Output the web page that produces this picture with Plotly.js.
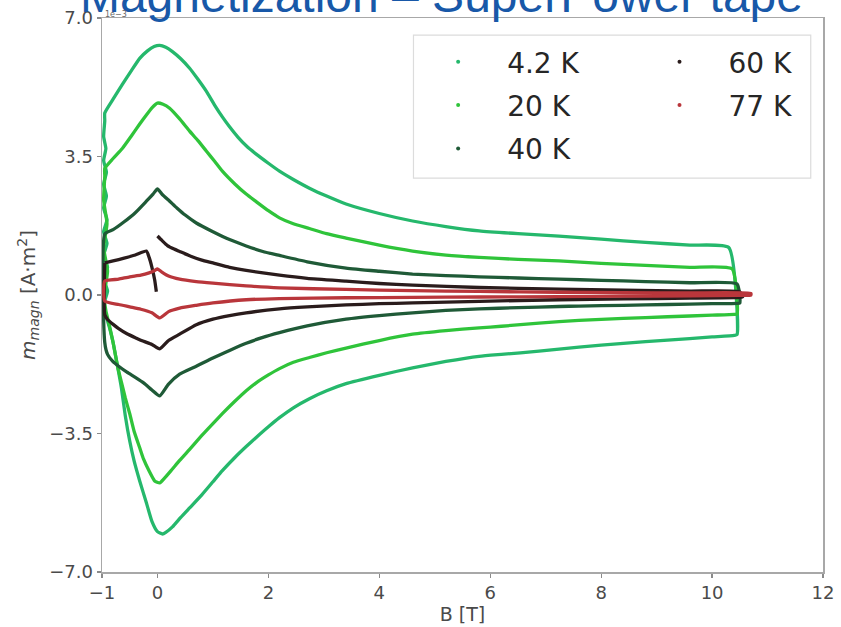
<!DOCTYPE html>
<html>
<head>
<meta charset="utf-8">
<script src="https://cdn.plot.ly/plotly-3.0.1.min.js"></script>
<style>html,body{margin:0;padding:0;background:#fff}#chart{width:841px;height:627px}</style>
</head>
<body>
<div id="chart"></div>
<script>
// Values of m_magn in units of 1e-3 A·m², B in tesla
const TEMPS = ['4.2 K', '20 K', '40 K', '60 K', '77 K'];

const B_42_up = [-0.95,-0.8,-0.63,-0.47,-0.32,-0.18,-0.06,0.04,0.15,0.27,0.42,0.58,0.73,0.88,1.03,1.17,1.3,1.45,1.6,1.78,2.0,2.2,2.45,2.74,3.05,3.4,4.0,4.6,5.2,5.8,6.5,7.24,8.0,8.8,9.6,10.3];
const M_42_up = [4.6,4.95,5.33,5.67,5.98,6.17,6.28,6.31,6.26,6.15,5.97,5.73,5.45,5.15,4.8,4.5,4.25,3.99,3.77,3.56,3.33,3.13,2.92,2.70,2.5,2.30,2.06,1.87,1.73,1.62,1.55,1.49,1.41,1.33,1.26,1.2];
const B_42_dn = [10.45,10.4,10.0,9.2,8.4,7.6,6.88,6.2,5.8,5.2,4.6,4.0,3.4,3.05,2.74,2.45,2.2,2.0,1.78,1.6,1.4,1.17,1.0,0.8,0.58,0.42,0.27,0.15,0.09,0.0,-0.1,-0.2,-0.32,-0.42,-0.5,-0.58,-0.65,-0.72,-0.8,-0.87,-0.93];
const M_42_dn = [-1.0,-1.02,-1.06,-1.14,-1.22,-1.32,-1.42,-1.5,-1.55,-1.68,-1.84,-2.03,-2.24,-2.42,-2.62,-2.85,-3.1,-3.33,-3.6,-3.83,-4.1,-4.44,-4.72,-5.05,-5.38,-5.62,-5.86,-6.0,-6.04,-5.98,-5.72,-5.25,-4.7,-4.2,-3.69,-3.05,-2.35,-1.8,-1.2,-0.8,-0.5];
const B_42_left = [-0.96,-0.9,-0.97,-0.9,-0.97,-0.91,-0.97,-0.91,-0.97,-0.92,-0.97,-0.92,-0.97,-0.93,-0.97,-0.95];
const M_42_left = [-0.2,0.1,0.4,0.7,1.0,1.3,1.6,1.9,2.2,2.5,2.8,3.1,3.4,3.7,4.0,4.4];

const B_20_up = [-0.95,-0.8,-0.63,-0.48,-0.32,-0.2,-0.1,0.0,0.1,0.22,0.4,0.58,0.73,0.88,1.03,1.17,1.4,1.6,1.78,2.0,2.2,2.45,2.74,3.05,3.4,4.0,4.6,5.2,5.8,6.5,7.24,8.0,8.8,9.6,10.36];
const M_20_up = [3.2,3.45,3.71,4.0,4.32,4.55,4.73,4.85,4.82,4.72,4.45,4.14,3.9,3.64,3.38,3.13,2.8,2.55,2.36,2.13,1.95,1.8,1.68,1.55,1.44,1.26,1.11,1.01,0.95,0.9,0.86,0.8,0.75,0.7,0.66];
const B_20_dn = [10.45,10.4,10.0,9.2,8.4,7.6,6.88,6.2,5.8,5.2,4.6,4.0,3.4,3.05,2.74,2.45,2.2,2.0,1.78,1.6,1.4,1.17,1.0,0.8,0.58,0.4,0.25,0.12,0.04,-0.05,-0.15,-0.25,-0.32,-0.42,-0.5,-0.58,-0.65,-0.72,-0.8,-0.87,-0.93];
const M_20_dn = [-0.48,-0.49,-0.51,-0.55,-0.59,-0.64,-0.71,-0.79,-0.83,-0.9,-0.99,-1.15,-1.34,-1.46,-1.58,-1.7,-1.86,-2.02,-2.22,-2.42,-2.68,-3.0,-3.25,-3.55,-3.9,-4.18,-4.43,-4.64,-4.75,-4.7,-4.45,-4.15,-3.86,-3.45,-3.0,-2.6,-2.2,-1.8,-1.2,-0.75,-0.4];
const B_20_left = [-0.96,-0.9,-0.97,-0.91,-0.97,-0.95];
const M_20_left = [0.0,0.6,1.2,1.8,2.4,3.0];

const B_40_up = [-0.95,-0.8,-0.6,-0.4,-0.2,-0.08,0.0,0.08,0.22,0.35,0.5,0.7,1.0,1.3,1.6,1.9,2.2,2.7,3.4,4.0,4.6,5.2,5.8,6.5,7.24,8.0,8.8,9.6,10.45];
const M_40_up = [1.54,1.65,1.85,2.08,2.37,2.55,2.68,2.55,2.37,2.2,2.02,1.82,1.6,1.4,1.24,1.1,1.0,0.84,0.68,0.6,0.53,0.49,0.46,0.43,0.40,0.37,0.34,0.31,0.28];
const B_40_dn = [10.5,10.45,10.0,9.2,8.4,7.6,7.24,6.5,5.8,5.2,4.6,4.0,3.4,2.7,2.2,1.9,1.6,1.3,1.0,0.7,0.4,0.2,0.04,-0.1,-0.25,-0.4,-0.55,-0.7,-0.81,-0.9,-0.95];
const M_40_dn = [-0.2,-0.21,-0.22,-0.24,-0.26,-0.28,-0.29,-0.32,-0.35,-0.39,-0.45,-0.52,-0.61,-0.78,-0.95,-1.07,-1.22,-1.4,-1.59,-1.8,-2.0,-2.25,-2.55,-2.4,-2.22,-2.08,-1.95,-1.8,-1.67,-1.5,-1.2];

const B_60_up = [-0.95,-0.8,-0.6,-0.4,-0.2,-0.15,-0.1,-0.05,-0.02,null,0.0,0.08,0.18,0.3,0.4,0.6,0.8,1.0,1.3,1.6,2.2,2.7,3.4,4.0,4.6,5.8,7.24,8.4,9.6,10.5];
const M_60_up = [0.81,0.86,0.93,1.01,1.11,0.95,0.7,0.38,0.08,null,1.49,1.38,1.25,1.16,1.1,0.98,0.88,0.81,0.7,0.62,0.5,0.42,0.35,0.29,0.25,0.19,0.15,0.12,0.1,0.08];
const B_60_dn = [10.55,10.5,9.6,8.4,7.24,5.8,4.6,4.0,3.4,2.7,2.2,1.6,1.3,1.0,0.7,0.4,0.2,0.04,-0.1,-0.25,-0.38,-0.55,-0.7,-0.81,-0.9,-0.95];
const M_60_dn = [-0.05,-0.06,-0.08,-0.1,-0.12,-0.16,-0.2,-0.22,-0.25,-0.3,-0.35,-0.45,-0.52,-0.61,-0.75,-0.99,-1.15,-1.36,-1.25,-1.17,-1.09,-0.98,-0.85,-0.73,-0.62,-0.5];

const B_77_up = [-0.95,-0.7,-0.5,-0.3,-0.15,-0.05,0.0,0.08,0.2,0.4,0.7,1.0,1.6,2.2,3.4,4.6,5.8,7.24,8.4,9.6,10.7];
const M_77_up = [0.35,0.4,0.46,0.5,0.56,0.62,0.66,0.58,0.48,0.4,0.34,0.3,0.23,0.18,0.14,0.11,0.09,0.07,0.06,0.05,0.04];
const B_77_dn = [10.7,10.5,9.6,8.4,7.24,5.8,4.6,3.4,2.2,1.6,1.0,0.7,0.4,0.2,0.04,-0.1,-0.3,-0.5,-0.7,-0.95];
const M_77_dn = [0.0,-0.01,-0.02,-0.03,-0.04,-0.05,-0.06,-0.07,-0.09,-0.12,-0.2,-0.26,-0.33,-0.42,-0.58,-0.45,-0.36,-0.3,-0.24,-0.15];

const X_TICKS = [-1, 0, 2, 4, 6, 8, 10, 12];
const X_TICK_LABELS = ['−1', '0', '2', '4', '6', '8', '10', '12'];
const Y_TICKS = [-7, -3.5, 0, 3.5, 7];
const Y_TICK_LABELS = ['−7.0', '−3.5', '0.0', '3.5', '7.0'];

const COLORS = ['#25b86c', '#2fc43a', '#1f5a37', '#2a1c1c', '#b9363b'];
const LEGEND_OF = ['legend', 'legend', 'legend', 'legend2', 'legend2'];

const loops = [
  [B_42_up, M_42_up, B_42_dn, M_42_dn, B_42_left, M_42_left],
  [B_20_up, M_20_up, B_20_dn, M_20_dn, B_20_left, M_20_left],
  [B_40_up, M_40_up, B_40_dn, M_40_dn, [], []],
  [B_60_up, M_60_up, B_60_dn, M_60_dn, [], []],
  [B_77_up, M_77_up, B_77_dn, M_77_dn, [], []]
];

const traces = [];
loops.forEach((L, i) => {
  const x = L[0].concat(L[2], L[4], [L[0][0]]);
  const y = L[1].concat(L[3], L[5], [L[1][0]]);
  traces.push({
    x: x, y: y, type: 'scatter', mode: 'lines',
    line: {color: COLORS[i], width: 3.3, shape: 'spline', smoothing: 0.5},
    showlegend: false, hoverinfo: 'skip', legendgroup: 'g' + i
  });
});
TEMPS.forEach((t, i) => {
  traces.push({
    x: [null], y: [null], type: 'scatter', mode: 'markers',
    marker: {color: COLORS[i], size: 4},
    name: t, legend: LEGEND_OF[i], legendgroup: 'g' + i, showlegend: true
  });
});

const tickFont = {family: 'DejaVu Sans', size: 18, color: '#4a4a4a'};
const legendBase = {
  xanchor: 'left', yanchor: 'top', bgcolor: 'rgba(0,0,0,0)', borderwidth: 0,
  font: {family: 'DejaVu Sans', size: 28, color: '#262626'},
  itemwidth: 88, tracegroupgap: 4, traceorder: 'grouped', y: 0.9657
};

const layout = {
  width: 841, height: 627,
  margin: {l: 102, r: 18, t: 18, b: 55},
  paper_bgcolor: '#ffffff', plot_bgcolor: '#ffffff',
  title: {
    text: 'Magnetization – SuperPower tape',
    font: {family: 'Liberation Sans, Arial, sans-serif', size: 48, color: '#1858a8'},
    xref: 'container', x: 0.095, xanchor: 'left',
    yref: 'container', y: 0.981, yanchor: 'bottom'
  },
  xaxis: {
    range: [-1, 12], tickvals: X_TICKS, ticktext: X_TICK_LABELS,
    ticks: 'outside', ticklen: 4, tickwidth: 1.2, tickcolor: '#8a8a8a',
    showline: true, mirror: true, linecolor: '#a8a8a8', linewidth: 1.5,
    showgrid: false, zeroline: false, tickfont: tickFont,
    title: {text: 'B [T]', font: {family: 'DejaVu Sans', size: 19, color: '#4a4a4a'}, standoff: 2}
  },
  yaxis: {
    range: [-7, 7], tickvals: Y_TICKS, ticktext: Y_TICK_LABELS,
    ticks: 'outside', ticklen: 4, tickwidth: 1.2, tickcolor: '#8a8a8a',
    showline: true, mirror: true, linecolor: '#a8a8a8', linewidth: 1.5,
    showgrid: false, zeroline: false, tickfont: tickFont,
    title: {text: '<i>m</i><sub><i>magn</i></sub> [A·m<sup>2</sup>]', font: {family: 'DejaVu Sans', size: 20, color: '#4a4a4a'}, standoff: 8}
  },
  legend: Object.assign({}, legendBase, {x: 0.426}),
  legend2: Object.assign({}, legendBase, {x: 0.733}),
  shapes: [{
    type: 'rect', xref: 'paper', yref: 'paper',
    x0: 0.432, x1: 0.983, y0: 0.711, y1: 0.969,
    line: {color: '#dcdcdc', width: 1.2}, fillcolor: 'rgba(255,255,255,0.9)', layer: 'above'
  }],
  annotations: [{
    text: '1e−3', xref: 'paper', yref: 'paper', x: 0, y: 1, xanchor: 'left', yanchor: 'bottom',
    showarrow: false, font: {family: 'DejaVu Sans', size: 8, color: '#666'}, xshift: 1, yshift: -3
  }]
};

Plotly.newPlot('chart', traces, layout, {displayModeBar: false, staticPlot: true});
</script>
</body>
</html>
